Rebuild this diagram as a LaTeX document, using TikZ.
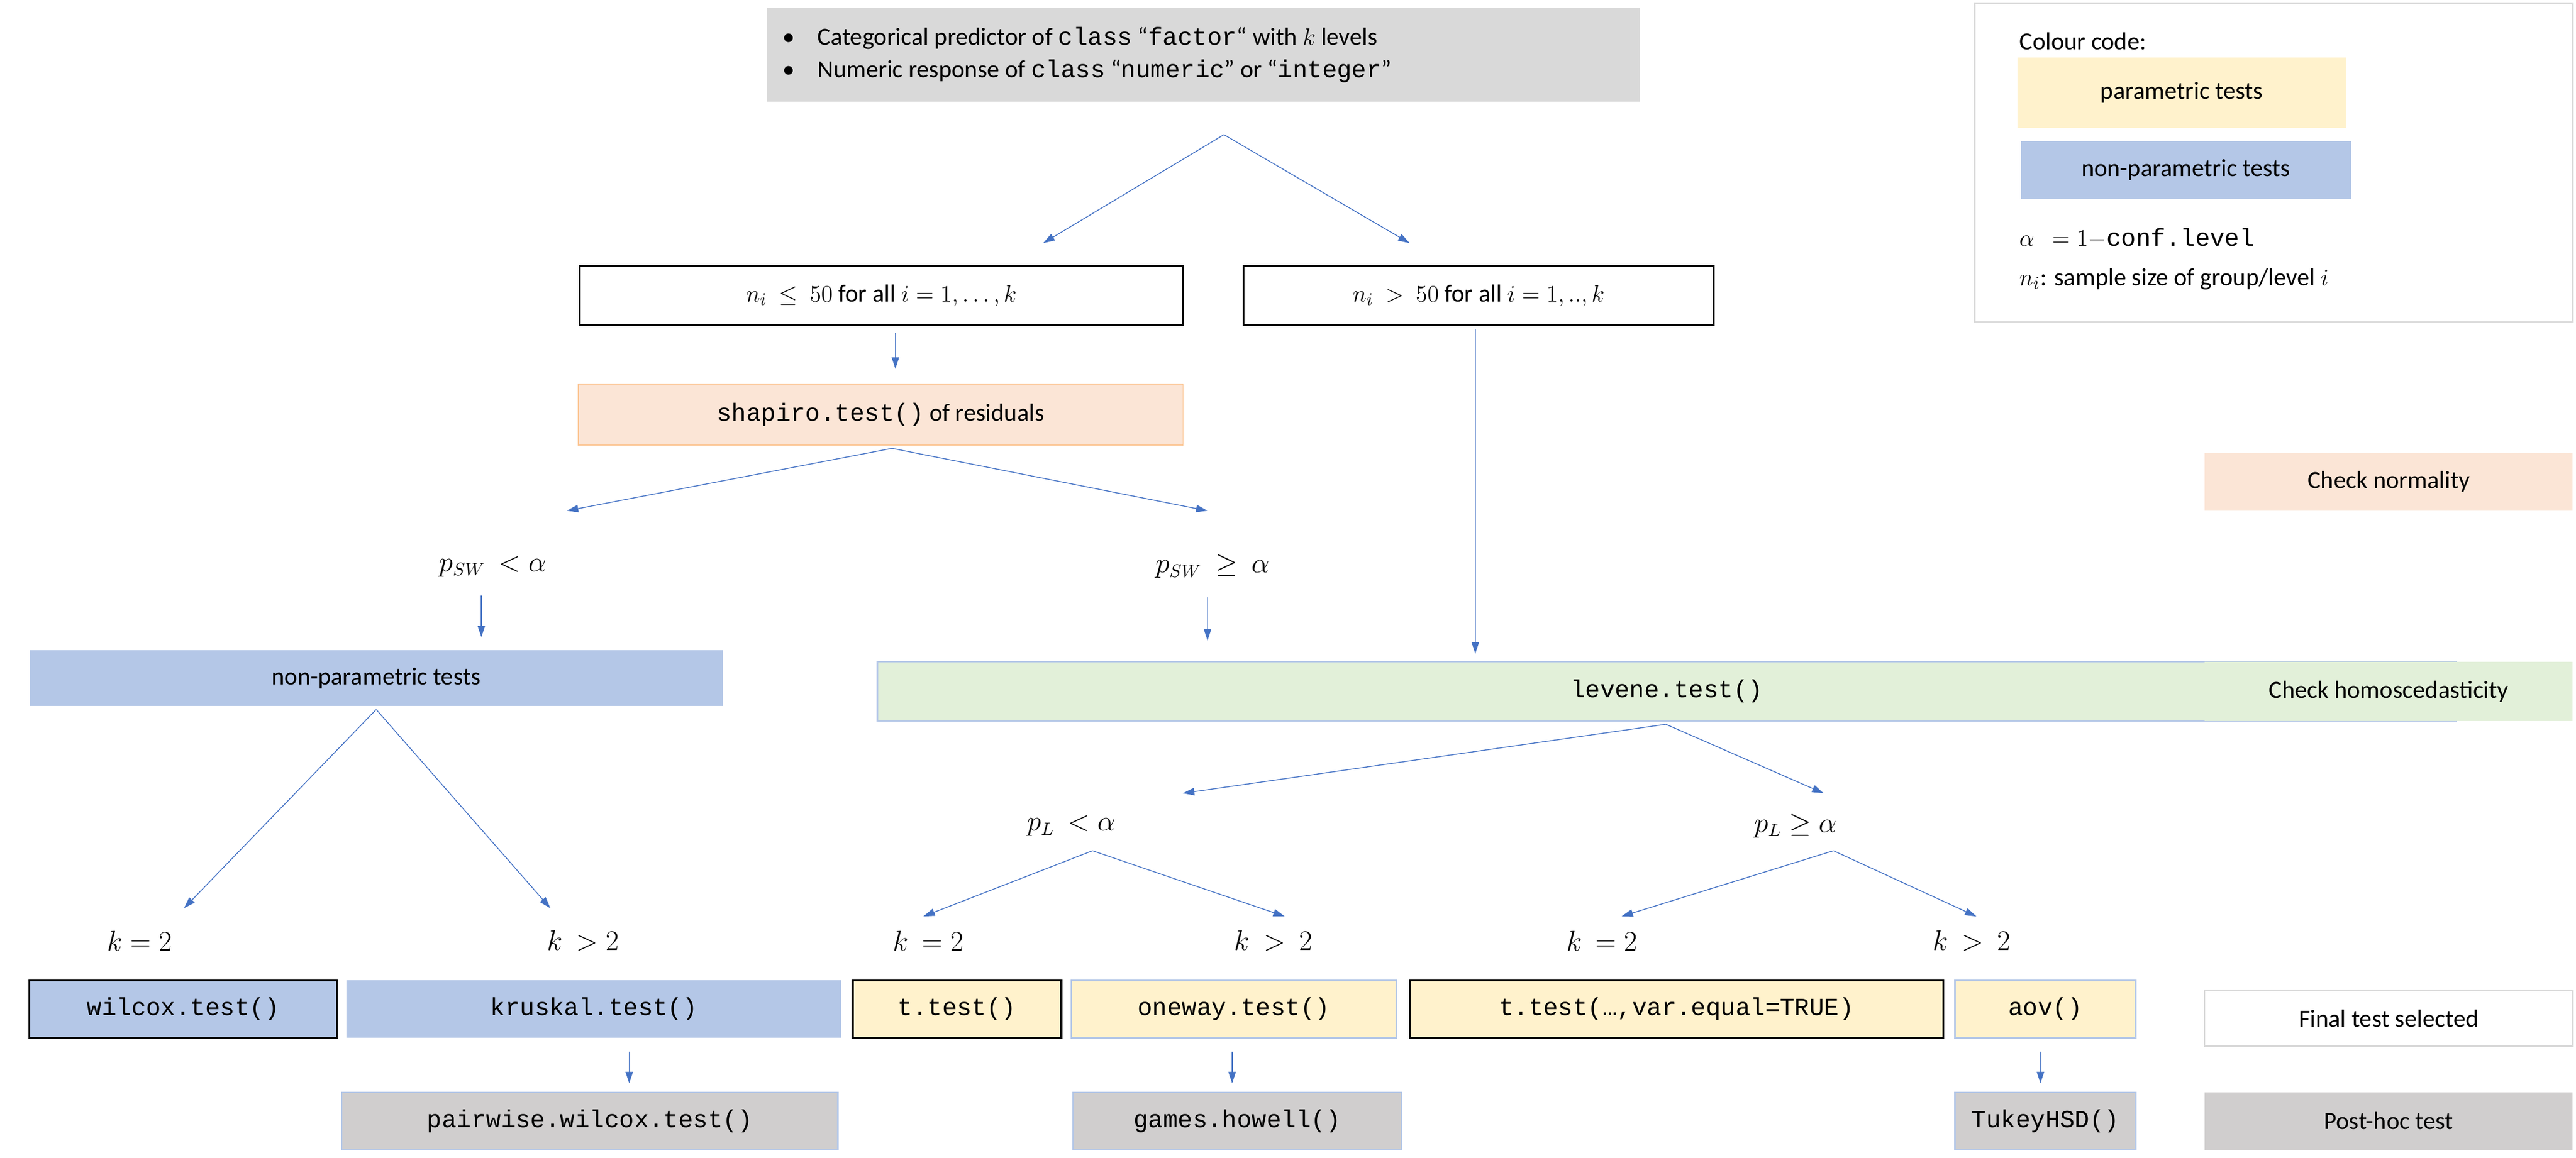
\documentclass[tikz,border=0pt]{standalone}
\usepackage{fontspec}
\setmainfont{Carlito}
\setmonofont{Liberation Mono}
\usetikzlibrary{arrows.meta}
\definecolor{arrblue}{HTML}{4472C4}
\definecolor{parcol}{HTML}{FFF2CC}
\definecolor{npcol}{HTML}{B4C7E7}
\definecolor{normcol}{HTML}{FBE5D6}
\definecolor{homocol}{HTML}{E2F0D9}
\definecolor{topcol}{HTML}{D9D9D9}
\definecolor{postcol}{HTML}{D0CECE}
\tikzset{
  box/.style={rectangle, inner sep=0pt, minimum height=35, font=\fontsize{15}{18}\selectfont},
  blk/.style={box, draw=black, line width=1.1pt},
  lbl/.style={font=\fontsize{16}{19}\selectfont},
  arr/.style={draw=arrblue, line width=0.5pt, -{Triangle[length=7pt,width=4.5pt]}}
}
\begin{document}
\begin{tikzpicture}[x=1pt,y=1pt,yscale=-1]
\useasboundingbox (0,0) rectangle (1568,705);

% Header
\node[box, fill=topcol, minimum width=531, minimum height=57] (head) at (732.5,33.5) {};
\node[box, anchor=west, align=left] (headtxt) at (476,33.5) {\textbullet\hspace{14pt}Categorical predictor of \texttt{class} “\texttt{factor}“ with $k$ levels\\[2pt]
\textbullet\hspace{14pt}Numeric response of \texttt{class} “\texttt{numeric}” or “\texttt{integer}”};

% Legend
\node[box, draw=black!15, line width=1pt, minimum width=364, minimum height=194] (legend) at (1384,99) {};
\node[box, anchor=west] (legtitle) at (1229,25) {Colour code:};
\node[box, fill=parcol, minimum width=200, minimum height=43] (legpar) at (1328,56.5) {parametric tests};
\node[box, fill=npcol, minimum width=201, minimum height=35] (legnp) at (1330.5,103.5) {non-parametric tests};
\node[box, anchor=west] (legalpha) at (1229,145) {$\alpha\ \ = 1 - $\texttt{conf.level}};
\node[box, anchor=west] (legni) at (1229,170) {$n_i$: sample size of group/level $i$};

% Sample size split
\coordinate (s0) at (745,82);
\coordinate (s1) at (635,148);
\coordinate (s2) at (858,148);
\draw[arr] (s0) -- (s1);
\draw[arr] (s0) -- (s2);
\node[blk, minimum width=367, minimum height=36] (nsmall) at (536.5,180) {$n_i\ \leq\ 50$ for all $i = 1, \dots, k$};
\node[blk, minimum width=286, minimum height=36] (nlarge) at (900,180) {$n_i\ >\ 50$ for all $i = 1,..,k$};

% Normality
\node[box, fill=normcol, draw=normcol!70!orange, minimum width=368, minimum height=37] (shapiro) at (536,252.5) {\texttt{shapiro.test()} of residuals};
\draw[arr] (nsmall.south -| 545,0) ++(0,4) coordinate (a1) -- ++(0,22) coordinate (a2);
\coordinate (sh0) at (543,273);
\coordinate (sh1) at (345,311);
\coordinate (sh2) at (735,311);
\draw[arr] (sh0) -- (sh1);
\draw[arr] (sh0) -- (sh2);
\node[lbl] (pswl) at (300,345) {$p_{SW}\ < \alpha$};
\node[lbl] (pswg) at (738,345) {$p_{SW}\ \geq\ \alpha$};
\draw[arr] ([yshift=8]pswl.south -| 293,0) -- (293,388);
\draw[arr] ([yshift=8]pswg.south -| 735,0) -- (735,390);
\draw[arr] ([yshift=2]nlarge.south -| 898,0) -- (898,398);

% Non-parametric branch
\node[box, fill=npcol, minimum width=422, minimum height=34] (nonpar) at (229,413) {non-parametric tests};
\coordinate (np0) at (229,432);
\coordinate (np1) at (112,553);
\coordinate (np2) at (335,553);
\draw[arr] (np0) -- (np1);
\draw[arr] (np0) -- (np2);

% Homoscedasticity
\node[box, fill=homocol, draw=npcol, line width=0.8pt, minimum width=961, minimum height=36] (levene) at (1014.5,421) {\texttt{levene.test()}};
\coordinate (lv0) at (1014,441);
\coordinate (lv1) at (720,483);
\coordinate (lv2) at (1110,483);
\draw[arr] (lv0) -- (lv1);
\draw[arr] (lv0) -- (lv2);
\node[lbl] (pll) at (652,503) {$p_L\ < \alpha$};
\node[lbl] (plg) at (1093,503) {$p_L \geq \alpha$};
\coordinate (pl0) at (665,518);
\coordinate (pg0) at (1116,518);
\draw[arr] (pl0) -- (562,558);
\draw[arr] (pl0) -- (782,558);
\draw[arr] (pg0) -- (987,558);
\draw[arr] (pg0) -- (1203,558);

% Number of levels
\node[lbl] (k1) at (85,573) {$k = 2$};
\node[lbl] (k2) at (355,573) {$k\ > 2$};
\node[lbl] (k3) at (565,573) {$k\ = 2$};
\node[lbl] (k4) at (775,573) {$k\ >\ 2$};
\node[lbl] (k5) at (975,573) {$k\ = 2$};
\node[lbl] (k6) at (1200,573) {$k\ >\ 2$};

% Final tests
\node[blk, fill=npcol, minimum width=187] (wilcox) at (111.5,614.5) {\texttt{wilcox.test()}};
\node[box, fill=npcol, minimum width=301] (kruskal) at (361.5,614.5) {\texttt{kruskal.test()}};
\node[blk, fill=parcol, minimum width=127] (ttest) at (582.5,614.5) {\texttt{t.test()}};
\node[box, fill=parcol, draw=npcol, line width=0.8pt, minimum width=198] (oneway) at (751,614.5) {\texttt{oneway.test()}};
\node[blk, fill=parcol, minimum width=325] (ttesteq) at (1020.5,614.5) {\texttt{t.test(…,var.equal=TRUE)}};
\node[box, fill=parcol, draw=npcol, line width=0.8pt, minimum width=110] (aov) at (1245,614.5) {\texttt{aov()}};

% Post-hoc tests
\node[box, fill=postcol, draw=npcol, line width=0.8pt, minimum width=302] (pairwise) at (359,682.5) {\texttt{pairwise.wilcox.test()}};
\node[box, fill=postcol, draw=npcol, line width=0.8pt, minimum width=200] (games) at (753,682.5) {\texttt{games.howell()}};
\node[box, fill=postcol, draw=npcol, line width=0.8pt, minimum width=110] (tukey) at (1245,682.5) {\texttt{TukeyHSD()}};
\draw[arr] ([yshift=8]kruskal.south -| 383,0) -- ([yshift=-5]pairwise.north -| 383,0);
\draw[arr] ([yshift=8]oneway.south -| 750,0) -- ([yshift=-5]games.north -| 750,0);
\draw[arr] ([yshift=8]aov.south -| 1242,0) -- ([yshift=-5]tukey.north -| 1242,0);

% Step labels
\node[box, fill=normcol, minimum width=224, minimum height=35] (stepnorm) at (1454,293.5) {Check normality};
\node[box, fill=homocol, minimum width=224, minimum height=36] (stephomo) at (1454,421) {Check homoscedasticity};
\node[box, draw=black!15, line width=0.8pt, minimum width=224, minimum height=34] (stepfinal) at (1454,620) {Final test selected};
\node[box, fill=postcol, minimum width=224, minimum height=35] (steppost) at (1454,682.5) {Post-hoc test};
\end{tikzpicture}
\end{document}
